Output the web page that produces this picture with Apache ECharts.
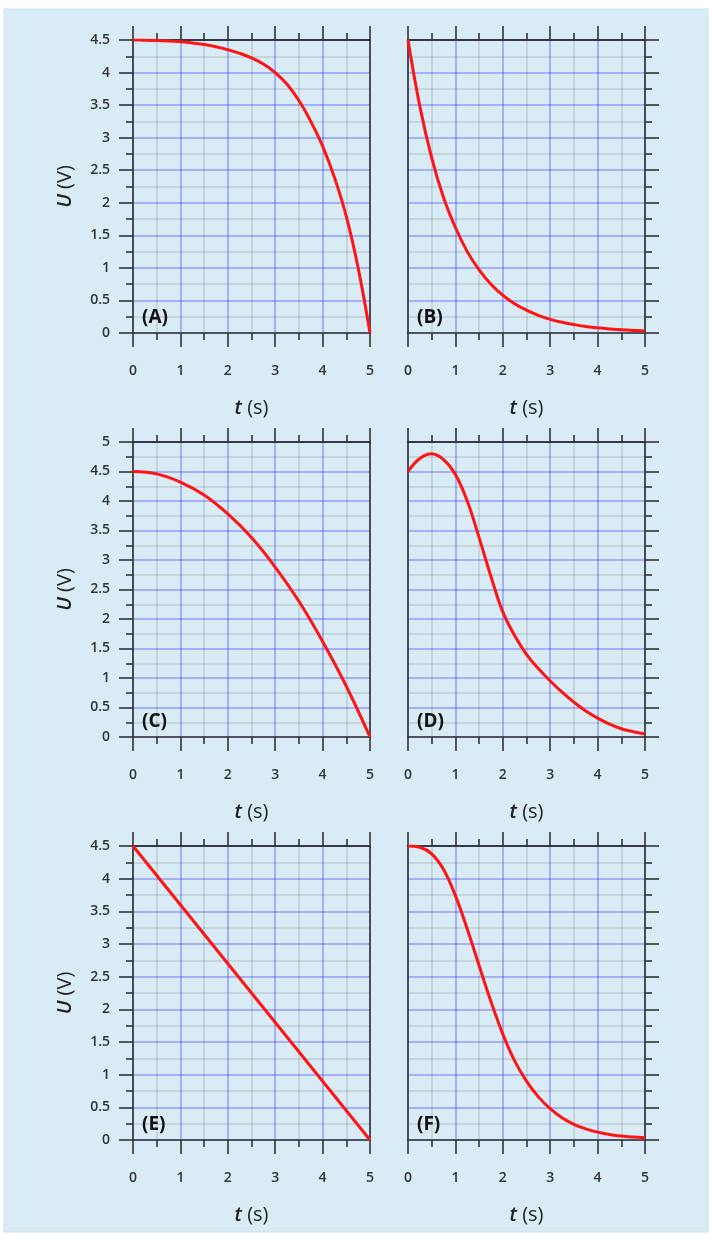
<!DOCTYPE html>
<html><head><meta charset="utf-8">
<script src="https://cdn.jsdelivr.net/npm/echarts@6/dist/echarts.min.js"></script>
<style>html,body{margin:0;padding:0;background:#fff;}#c{width:712px;height:1240px;}</style>
</head><body><div id="c"></div>
<script>
// ---- data ----
const xTicks = [0, 1, 2, 3, 4, 5];
const panelLabels = ['(A)', '(B)', '(C)', '(D)', '(E)', '(F)'];
const yMaxes = [4.5, 4.5, 5, 5, 4.5, 4.5];

const tQ = [0, 0.25, 0.5, 0.75, 1, 1.25, 1.5, 1.75, 2, 2.25, 2.5, 2.75, 3, 3.25, 3.5, 3.75, 4, 4.25, 4.5, 4.75, 5];

const tA = tQ;
const uA = [4.5, 4.497, 4.492, 4.484, 4.472, 4.455, 4.43, 4.395, 4.35, 4.295, 4.225, 4.13, 4.0, 3.82, 3.57, 3.25, 2.87, 2.39, 1.79, 1.0, 0];

const tB = tQ;
const uB = [4.5, 3.48, 2.69, 2.08, 1.62, 1.25, 0.97, 0.75, 0.58, 0.45, 0.35, 0.27, 0.21, 0.165, 0.13, 0.1, 0.08, 0.062, 0.05, 0.04, 0.032];

const tC = [0, 0.5, 1, 1.5, 2, 2.5, 3, 3.5, 4, 4.5, 5];
const uC = [4.5, 4.46, 4.32, 4.1, 3.78, 3.38, 2.88, 2.3, 1.62, 0.86, 0];

const tD = tQ;
const uD = [4.5, 4.72, 4.8, 4.7, 4.45, 4.0, 3.38, 2.72, 2.12, 1.72, 1.4, 1.16, 0.95, 0.76, 0.59, 0.44, 0.32, 0.22, 0.14, 0.09, 0.05];

const tE = [0, 5];
const uE = [4.5, 0];

const tF = tQ;
const uF = [4.5, 4.48, 4.38, 4.14, 3.74, 3.23, 2.67, 2.12, 1.62, 1.21, 0.9, 0.66, 0.48, 0.34, 0.24, 0.17, 0.12, 0.085, 0.06, 0.045, 0.035];

const seriesT = [tA, tB, tC, tD, tE, tF];
const seriesU = [uA, uB, uC, uD, uE, uF];

// ---- layout ----
const FONT = '"Open Sans", "Noto Sans", sans-serif';
const colLeft = [133, 408];
const plotW = 237;
const rowTop = [40, 442, 846];
const rowH = [293, 295, 294];
const AXC = '#333';
const AXW = 1.6;

const grids = [], xAxes = [], yAxes = [], series = [], graphics = [];
graphics.push({type: 'rect', shape: {x: 4, y: 9, width: 704, height: 1223},
  style: {fill: '#d9ecf5', stroke: '#c4e1ef', lineWidth: 1}, z: -10, silent: true});

const nameRich = {
  it: {fontStyle: 'italic', fontSize: 20, color: '#222', fontFamily: FONT, fontWeight: 600},
  n: {fontSize: 20, color: '#222', fontFamily: FONT}
};

for (let i = 0; i < 6; i++) {
  const col = i % 2, row = Math.floor(i / 2);
  const isLeft = col === 0;
  grids.push({left: colLeft[col], top: rowTop[row], width: plotW, height: rowH[row], containLabel: false});
  const xi = xAxes.length;
  xAxes.push({
    type: 'value', gridIndex: i, position: 'bottom', min: 0, max: 5, interval: 1,
    axisLine: {show: true, onZero: false, lineStyle: {color: AXC, width: AXW}},
    axisTick: {show: true, inside: false, length: 14, lineStyle: {color: AXC, width: AXW}},
    minorTick: {show: true, splitNumber: 2, length: 7, lineStyle: {color: AXC, width: AXW}},
    axisLabel: {show: true, margin: 31, color: '#333', fontSize: 14, fontWeight: 600, fontFamily: FONT,
      formatter: v => xTicks.includes(v) ? String(v) : ''},
    splitLine: {show: true, lineStyle: {color: 'rgba(30,30,255,0.38)', width: 1.5}},
    minorSplitLine: {show: true, lineStyle: {color: 'rgba(0,0,0,0.13)', width: 1.5}},
    name: '{it|t}{n| (s)}', nameLocation: 'middle', nameGap: 65,
    nameTextStyle: {rich: nameRich}
  });
  xAxes.push({
    type: 'value', gridIndex: i, position: 'top', min: 0, max: 5, interval: 1,
    axisLine: {show: true, onZero: false, lineStyle: {color: '#111', width: AXW}},
    axisTick: {show: true, inside: false, length: 14, lineStyle: {color: AXC, width: AXW}},
    minorTick: {show: true, splitNumber: 2, length: 7, lineStyle: {color: AXC, width: AXW}},
    axisLabel: {show: false}, splitLine: {show: false}
  });
  const ymax = yMaxes[i];
  const yi = yAxes.length;
  yAxes.push({
    type: 'value', gridIndex: i, position: 'left', min: 0, max: ymax, interval: 0.5,
    axisLine: {show: true, onZero: false, lineStyle: {color: AXC, width: AXW}},
    axisTick: {show: isLeft, inside: false, length: 14, lineStyle: {color: AXC, width: AXW}},
    minorTick: {show: isLeft, splitNumber: 2, length: 7, lineStyle: {color: AXC, width: AXW}},
    axisLabel: {show: isLeft, margin: 23, color: '#333', fontSize: 14, fontWeight: 600, fontFamily: FONT},
    splitLine: {show: true, lineStyle: {color: 'rgba(30,30,255,0.38)', width: 1.5}},
    minorSplitLine: {show: true, lineStyle: {color: 'rgba(0,0,0,0.13)', width: 1.5}},
    name: isLeft ? '{it|U}{n| (V)}' : '', nameLocation: 'middle', nameGap: 58, nameRotate: 90,
    nameTextStyle: {rich: nameRich}
  });
  yAxes.push({
    type: 'value', gridIndex: i, position: 'right', min: 0, max: ymax, interval: 0.5,
    axisLine: {show: true, onZero: false, lineStyle: {color: AXC, width: AXW}},
    axisTick: {show: !isLeft, inside: false, length: 14, lineStyle: {color: AXC, width: AXW}},
    minorTick: {show: !isLeft, splitNumber: 2, length: 7, lineStyle: {color: AXC, width: AXW}},
    axisLabel: {show: false}, splitLine: {show: false}
  });
  series.push({
    type: 'line', xAxisIndex: xi, yAxisIndex: yi, showSymbol: false, symbol: 'none',
    smooth: seriesT[i].length > 2 ? 0.4 : false,
    lineStyle: {color: '#ff1414', width: 3}, z: 5,
    data: seriesT[i].map((t, k) => [t, seriesU[i][k]])
  });
  graphics.push({type: 'text', left: colLeft[col] + 9, top: rowTop[row] + rowH[row] - 25, z: 20,
    style: {text: panelLabels[i], fill: '#111', font: 'bold 19px ' + FONT}});
}

const chart = echarts.init(document.getElementById('c'), null, {renderer: 'canvas'});
chart.setOption({
  backgroundColor: '#ffffff',
  animation: false,
  grid: grids, xAxis: xAxes, yAxis: yAxes, series: series, graphic: graphics
});
</script></body></html>
